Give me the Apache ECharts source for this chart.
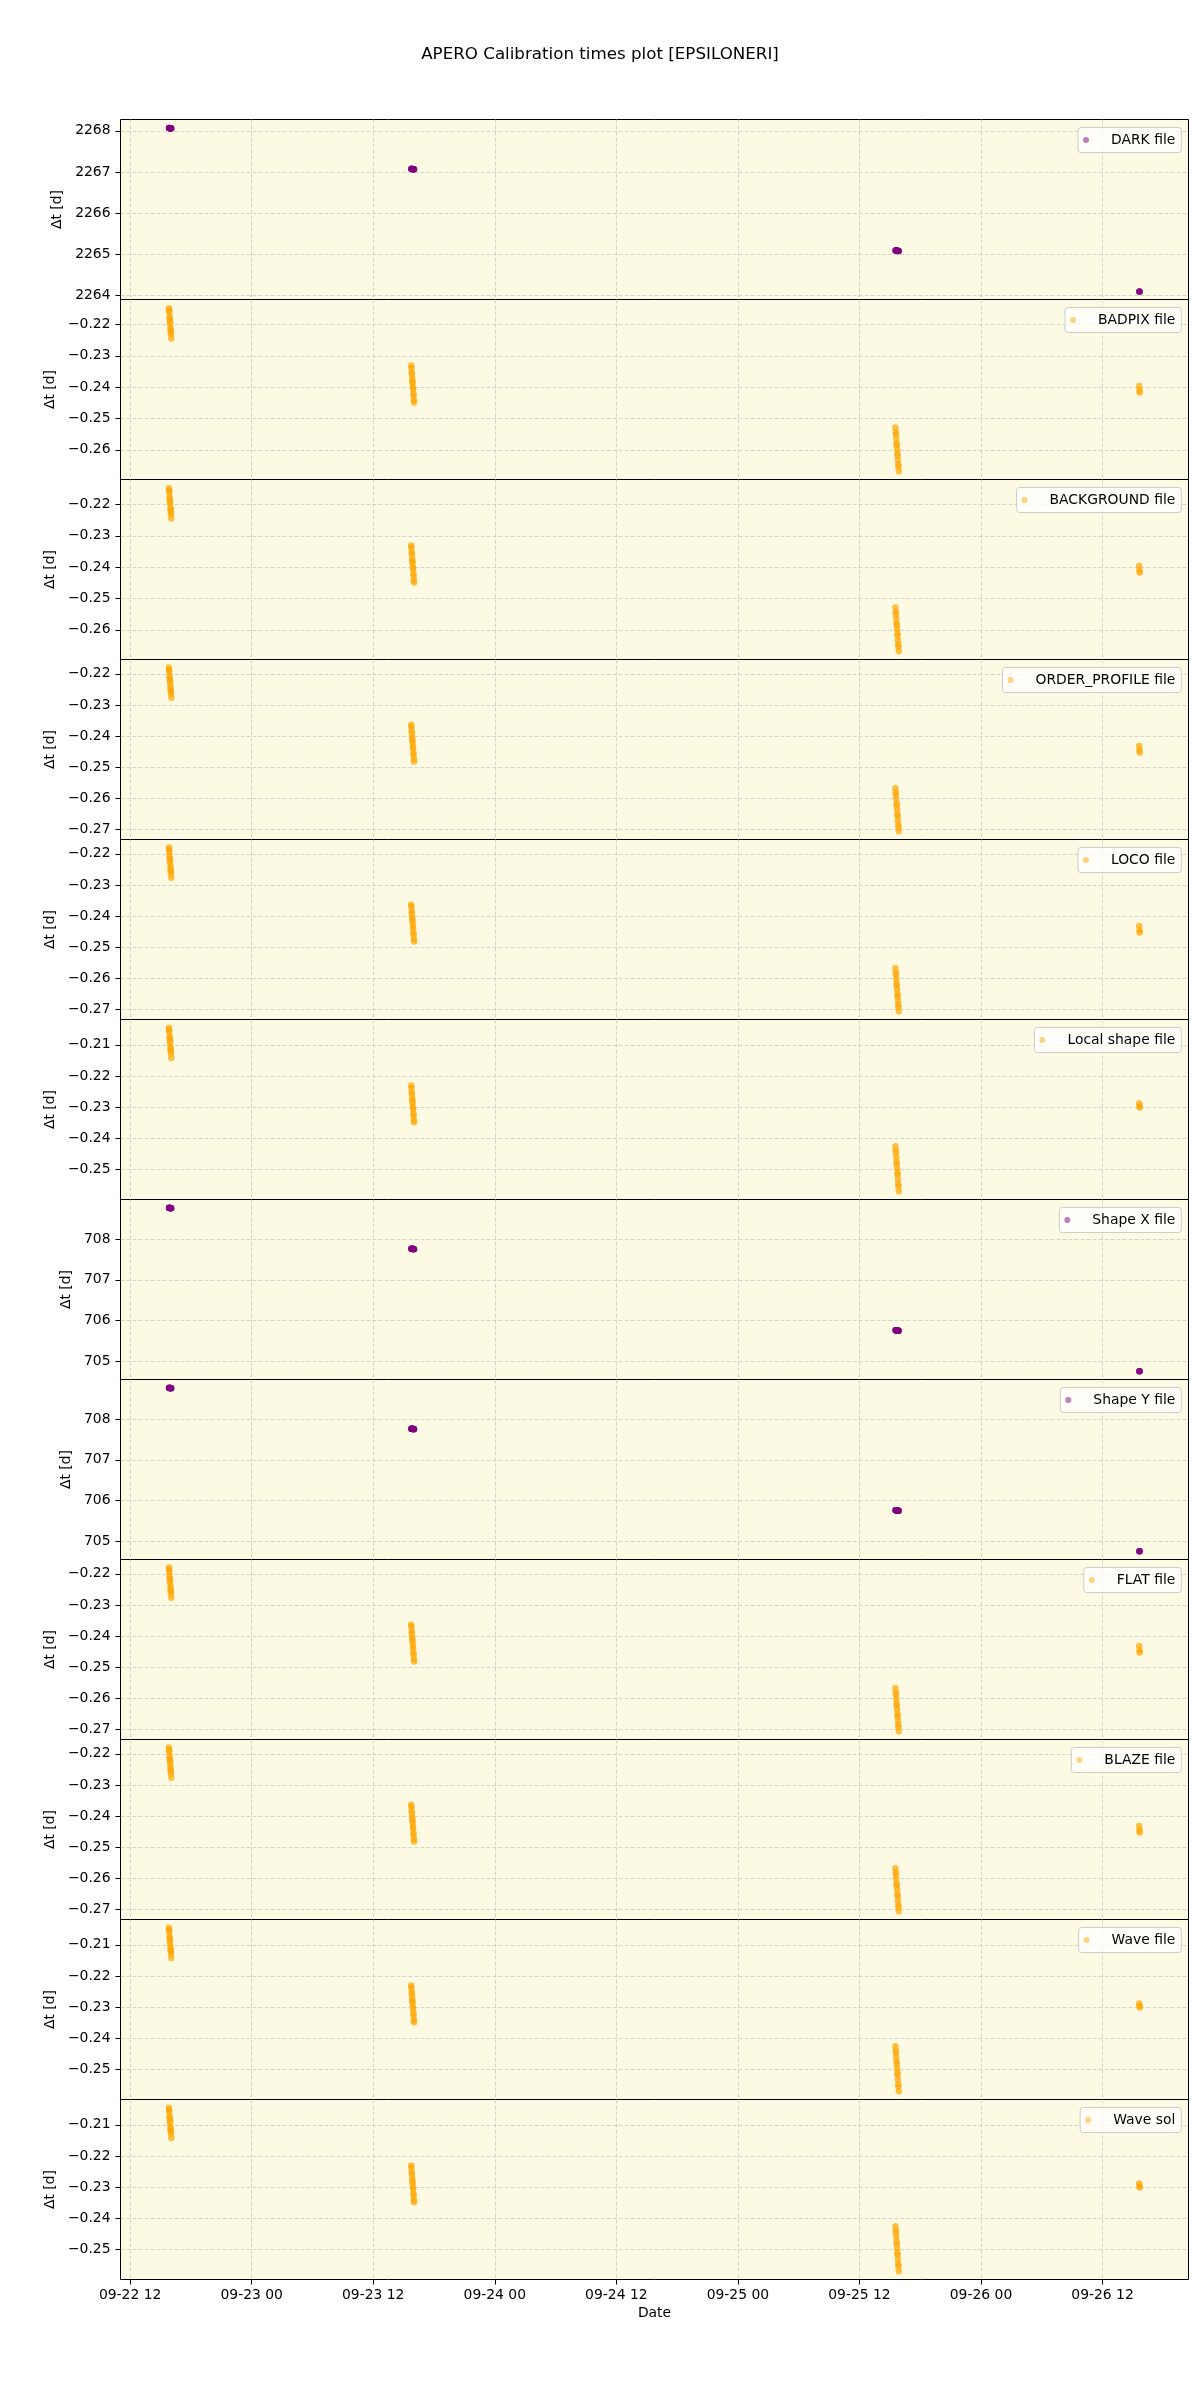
<!DOCTYPE html>
<html>
<head>
<meta charset="utf-8">
<script src="https://cdn.jsdelivr.net/npm/echarts@6/dist/echarts.min.js"></script>
<style>
html,body{margin:0;padding:0;background:#ffffff;}
#chart{width:1200px;height:2400px;}
</style>
</head>
<body>
<div id="chart"></div>
<script>
// ---------------- DATA ----------------
const chartTitle = 'APERO Calibration times plot [EPSILONERI]';
const xAxisName = 'Date';
const yAxisName = 'Δt [d]';

// observation times (UTC), shared by all panels
const obsTimes = [
  '2022-09-22T15:50:00Z','2022-09-22T15:51:00Z','2022-09-22T15:52:00Z','2022-09-22T15:54:00Z',
  '2022-09-22T15:55:00Z','2022-09-22T15:56:00Z','2022-09-22T15:57:00Z','2022-09-22T15:59:00Z',
  '2022-09-22T16:00:00Z','2022-09-22T16:01:00Z','2022-09-22T16:02:00Z','2022-09-22T16:04:00Z',
  '2022-09-23T15:45:00Z','2022-09-23T15:46:00Z','2022-09-23T15:48:00Z','2022-09-23T15:49:00Z',
  '2022-09-23T15:51:00Z','2022-09-23T15:52:00Z','2022-09-23T15:53:00Z','2022-09-23T15:55:00Z',
  '2022-09-23T15:56:00Z','2022-09-23T15:58:00Z','2022-09-23T15:59:00Z','2022-09-23T16:01:00Z',
  '2022-09-23T16:02:00Z',
  '2022-09-25T15:33:00Z','2022-09-25T15:35:00Z','2022-09-25T15:36:00Z','2022-09-25T15:38:00Z',
  '2022-09-25T15:40:00Z','2022-09-25T15:41:00Z','2022-09-25T15:43:00Z','2022-09-25T15:45:00Z',
  '2022-09-25T15:46:00Z','2022-09-25T15:48:00Z','2022-09-25T15:50:00Z','2022-09-25T15:51:00Z',
  '2022-09-25T15:53:00Z',
  '2022-09-26T15:37:00Z','2022-09-26T15:39:00Z','2022-09-26T15:40:00Z'
];

const dtDark = [
  2268.068,2268.067,2268.067,2268.065,2268.065,2268.064,2268.063,2268.062,2268.061,2268.060,2268.060,2268.058,
  2267.075,2267.074,2267.073,2267.072,2267.071,2267.070,2267.069,2267.068,2267.067,2267.066,2267.065,2267.064,2267.063,
  2265.088,2265.087,2265.086,2265.085,2265.083,2265.083,2265.081,2265.080,2265.079,2265.078,2265.076,2265.076,2265.074,
  2264.088,2264.087,2264.086
];
const dtBadpix = [
  -0.2148,-0.2155,-0.2162,-0.2176,-0.2183,-0.2190,-0.2197,-0.2210,-0.2217,-0.2224,-0.2231,-0.2245,
  -0.2331,-0.2338,-0.2352,-0.2359,-0.2373,-0.2380,-0.2387,-0.2400,-0.2407,-0.2421,-0.2428,-0.2442,-0.2449,
  -0.2529,-0.2543,-0.2550,-0.2564,-0.2578,-0.2585,-0.2598,-0.2612,-0.2619,-0.2633,-0.2647,-0.2654,-0.2668,
  -0.2396,-0.2410,-0.2417
];
const dtBackground = [
  -0.2148,-0.2155,-0.2162,-0.2176,-0.2183,-0.2190,-0.2197,-0.2210,-0.2217,-0.2224,-0.2231,-0.2245,
  -0.2331,-0.2338,-0.2352,-0.2359,-0.2373,-0.2380,-0.2387,-0.2400,-0.2407,-0.2421,-0.2428,-0.2442,-0.2449,
  -0.2529,-0.2543,-0.2550,-0.2564,-0.2578,-0.2585,-0.2598,-0.2612,-0.2619,-0.2633,-0.2647,-0.2654,-0.2668,
  -0.2396,-0.2410,-0.2417
];
const dtOrderProfile = [
  -0.2180,-0.2187,-0.2194,-0.2208,-0.2215,-0.2222,-0.2229,-0.2242,-0.2249,-0.2256,-0.2263,-0.2277,
  -0.2364,-0.2371,-0.2385,-0.2392,-0.2406,-0.2413,-0.2420,-0.2433,-0.2440,-0.2454,-0.2461,-0.2475,-0.2482,
  -0.2568,-0.2582,-0.2589,-0.2603,-0.2617,-0.2624,-0.2637,-0.2651,-0.2658,-0.2672,-0.2686,-0.2693,-0.2707,
  -0.2432,-0.2446,-0.2453
];
const dtLoco = [
  -0.2180,-0.2187,-0.2194,-0.2208,-0.2215,-0.2222,-0.2229,-0.2242,-0.2249,-0.2256,-0.2263,-0.2277,
  -0.2364,-0.2371,-0.2385,-0.2392,-0.2406,-0.2413,-0.2420,-0.2433,-0.2440,-0.2454,-0.2461,-0.2475,-0.2482,
  -0.2568,-0.2582,-0.2589,-0.2603,-0.2617,-0.2624,-0.2637,-0.2651,-0.2658,-0.2672,-0.2686,-0.2693,-0.2707,
  -0.2432,-0.2446,-0.2453
];
const dtLocalShape = [
  -0.2045,-0.2052,-0.2059,-0.2073,-0.2080,-0.2087,-0.2094,-0.2107,-0.2114,-0.2121,-0.2128,-0.2142,
  -0.2231,-0.2238,-0.2252,-0.2259,-0.2273,-0.2280,-0.2287,-0.2300,-0.2307,-0.2321,-0.2328,-0.2342,-0.2349,
  -0.2426,-0.2440,-0.2448,-0.2462,-0.2476,-0.2483,-0.2497,-0.2511,-0.2518,-0.2533,-0.2548,-0.2556,-0.2571,
  -0.2289,-0.2297,-0.2302
];
const dtShapeX = [
  708.770,708.769,708.769,708.767,708.767,708.766,708.765,708.764,708.763,708.762,708.762,708.760,
  707.765,707.764,707.763,707.762,707.761,707.760,707.759,707.758,707.757,707.756,707.755,707.754,707.753,
  705.760,705.759,705.758,705.757,705.755,705.755,705.753,705.752,705.751,705.750,705.748,705.748,705.746,
  704.752,704.751,704.750
];
const dtShapeY = [
  708.770,708.769,708.769,708.767,708.767,708.766,708.765,708.764,708.763,708.762,708.762,708.760,
  707.765,707.764,707.763,707.762,707.761,707.760,707.759,707.758,707.757,707.756,707.755,707.754,707.753,
  705.760,705.759,705.758,705.757,705.755,705.755,705.753,705.752,705.751,705.750,705.748,705.748,705.746,
  704.752,704.751,704.750
];
const dtFlat = [
  -0.2180,-0.2187,-0.2194,-0.2208,-0.2215,-0.2222,-0.2229,-0.2242,-0.2249,-0.2256,-0.2263,-0.2277,
  -0.2364,-0.2371,-0.2385,-0.2392,-0.2406,-0.2413,-0.2420,-0.2433,-0.2440,-0.2454,-0.2461,-0.2475,-0.2482,
  -0.2568,-0.2582,-0.2589,-0.2603,-0.2617,-0.2624,-0.2637,-0.2651,-0.2658,-0.2672,-0.2686,-0.2693,-0.2707,
  -0.2432,-0.2446,-0.2453
];
const dtBlaze = [
  -0.2180,-0.2187,-0.2194,-0.2208,-0.2215,-0.2222,-0.2229,-0.2242,-0.2249,-0.2256,-0.2263,-0.2277,
  -0.2364,-0.2371,-0.2385,-0.2392,-0.2406,-0.2413,-0.2420,-0.2433,-0.2440,-0.2454,-0.2461,-0.2475,-0.2482,
  -0.2568,-0.2582,-0.2589,-0.2603,-0.2617,-0.2624,-0.2637,-0.2651,-0.2658,-0.2672,-0.2686,-0.2693,-0.2707,
  -0.2432,-0.2446,-0.2453
];
const dtWaveFile = [
  -0.2045,-0.2052,-0.2059,-0.2073,-0.2080,-0.2087,-0.2094,-0.2107,-0.2114,-0.2121,-0.2128,-0.2142,
  -0.2231,-0.2238,-0.2252,-0.2259,-0.2273,-0.2280,-0.2287,-0.2300,-0.2307,-0.2321,-0.2328,-0.2342,-0.2349,
  -0.2426,-0.2440,-0.2448,-0.2462,-0.2476,-0.2483,-0.2497,-0.2511,-0.2518,-0.2533,-0.2548,-0.2556,-0.2571,
  -0.2289,-0.2297,-0.2302
];
const dtWaveSol = [
  -0.2045,-0.2052,-0.2059,-0.2073,-0.2080,-0.2087,-0.2094,-0.2107,-0.2114,-0.2121,-0.2128,-0.2142,
  -0.2231,-0.2238,-0.2252,-0.2259,-0.2273,-0.2280,-0.2287,-0.2300,-0.2307,-0.2321,-0.2328,-0.2342,-0.2349,
  -0.2426,-0.2440,-0.2448,-0.2462,-0.2476,-0.2483,-0.2497,-0.2511,-0.2518,-0.2533,-0.2548,-0.2556,-0.2571,
  -0.2289,-0.2297,-0.2302
];

// axis ticks
const xTickValues = [
  '2022-09-22T12:00:00Z','2022-09-23T00:00:00Z','2022-09-23T12:00:00Z','2022-09-24T00:00:00Z',
  '2022-09-24T12:00:00Z','2022-09-25T00:00:00Z','2022-09-25T12:00:00Z','2022-09-26T00:00:00Z',
  '2022-09-26T12:00:00Z'
];
const xRange = ['2022-09-22T11:03:00Z','2022-09-26T20:29:00Z'];
const yTicksDark = [2264, 2265, 2266, 2267, 2268];
const yTicksBadpix = [-0.26, -0.25, -0.24, -0.23, -0.22];
const yTicksOrder = [-0.27, -0.26, -0.25, -0.24, -0.23, -0.22];
const yTicksLocal = [-0.25, -0.24, -0.23, -0.22, -0.21];
const yTicksShape = [705, 706, 707, 708];
const yRangeDark = [2263.895, 2268.276];
const yRangeBadpix = [-0.26947, -0.21202];
const yRangeOrder = [-0.27332, -0.21539];
const yRangeLocal = [-0.25976, -0.20185];
const yRangeShape = [704.549, 708.975];

// ---------------- PANELS ----------------
const PURPLE = '#800080', ORANGE = '#ffa500';
const panels = [
  {name:'DARK file',          dt:dtDark,         color:PURPLE, ticks:yTicksDark,   range:yRangeDark,   dec:0, gap:54},
  {name:'BADPIX file',        dt:dtBadpix,       color:ORANGE, ticks:yTicksBadpix, range:yRangeBadpix, dec:2, gap:61},
  {name:'BACKGROUND file',    dt:dtBackground,   color:ORANGE, ticks:yTicksBadpix, range:yRangeBadpix, dec:2, gap:61},
  {name:'ORDER_PROFILE file', dt:dtOrderProfile, color:ORANGE, ticks:yTicksOrder,  range:yRangeOrder,  dec:2, gap:61},
  {name:'LOCO file',          dt:dtLoco,         color:ORANGE, ticks:yTicksOrder,  range:yRangeOrder,  dec:2, gap:61},
  {name:'Local shape file',   dt:dtLocalShape,   color:ORANGE, ticks:yTicksLocal,  range:yRangeLocal,  dec:2, gap:61},
  {name:'Shape X file',       dt:dtShapeX,       color:PURPLE, ticks:yTicksShape,  range:yRangeShape,  dec:0, gap:45},
  {name:'Shape Y file',       dt:dtShapeY,       color:PURPLE, ticks:yTicksShape,  range:yRangeShape,  dec:0, gap:45},
  {name:'FLAT file',          dt:dtFlat,         color:ORANGE, ticks:yTicksOrder,  range:yRangeOrder,  dec:2, gap:61},
  {name:'BLAZE file',         dt:dtBlaze,        color:ORANGE, ticks:yTicksOrder,  range:yRangeOrder,  dec:2, gap:61},
  {name:'Wave file',          dt:dtWaveFile,     color:ORANGE, ticks:yTicksLocal,  range:yRangeLocal,  dec:2, gap:61},
  {name:'Wave sol',           dt:dtWaveSol,      color:ORANGE, ticks:yTicksLocal,  range:yRangeLocal,  dec:2, gap:61}
];

const FONT = 'DejaVu Sans';
const toMs = s => Date.parse(s);
const obsMs = obsTimes.map(toMs);
const xTicksMs = xTickValues.map(toMs);
const pad2 = n => (n < 10 ? '0' : '') + n;
const fmtDate = v => { const d = new Date(v); return pad2(d.getUTCMonth()+1) + '-' + pad2(d.getUTCDate()) + ' ' + pad2(d.getUTCHours()); };
const gridLine = {show:true, lineStyle:{color:'#c9c9c9', width:0.8, type:[4,2]}};

const grids = [], xAxes = [], yAxes = [], series = [], legends = [];
const TOP0 = 119.5, PH = 180, LEFT = 120.5, RIGHT = 11.5;
panels.forEach((p, i) => {
  const top = TOP0 + PH * i;
  const last = i === panels.length - 1;
  grids.push({left:LEFT, right:RIGHT, top:top, height:PH, show:true,
    backgroundColor:'#fcfae2', borderColor:'#000000', borderWidth:1,
    containLabel:false, outerBoundsMode:'none'});
  xAxes.push({type:'value', gridIndex:i, min:toMs(xRange[0]), max:toMs(xRange[1]),
    axisLine:{show:false},
    axisTick:{show:last, customValues:xTicksMs, length:5, lineStyle:{color:'#000', width:1}},
    axisLabel:{show:last, customValues:xTicksMs, formatter:fmtDate, color:'#000', fontSize:13.9, fontFamily:FONT, margin:9},
    splitLine:gridLine,
    name: last ? xAxisName : '', nameLocation:'middle', nameGap:27,
    nameTextStyle:{color:'#000', fontSize:13.9, fontFamily:FONT}});
  yAxes.push({type:'value', gridIndex:i, min:p.range[0], max:p.range[1], scale:true,
    axisLine:{show:false},
    axisTick:{show:true, customValues:p.ticks, length:5, lineStyle:{color:'#000', width:1}},
    axisLabel:{customValues:p.ticks, color:'#000', fontSize:13.9, fontFamily:FONT, margin:10,
      formatter: v => p.dec ? v.toFixed(p.dec).replace('-', '\u2212') : String(Math.round(v))},
    splitLine:gridLine,
    name:yAxisName, nameLocation:'middle', nameGap:p.gap,
    nameTextStyle:{color:'#000', fontSize:13.9, fontFamily:FONT}});
  series.push({type:'scatter', name:p.name, xAxisIndex:i, yAxisIndex:i,
    data: obsMs.map((t, k) => [t, p.dt[k]]),
    symbol:'circle', symbolSize:6.5,
    itemStyle:{color:p.color, opacity:0.7}, silent:true, animation:false});
  legends.push({data:[{name:p.name, icon:'circle', itemStyle:{color:p.color, opacity:0.5}}],
    right:18.7, top:top + 8,
    orient:'vertical', selectedMode:false,
    backgroundColor:'rgba(255,255,255,0.8)', borderColor:'#cccccc', borderWidth:1, borderRadius:3,
    padding:[5,6,5,5], itemWidth:28, itemHeight:6, itemGap:0,
    textStyle:{color:'#000', fontSize:13.9, fontFamily:FONT, lineHeight:15, padding:[0,0,0,6]}});
});

const chart = echarts.init(document.getElementById('chart'), null, {renderer:'canvas'});
chart.setOption({
  animation:false,
  backgroundColor:'#ffffff',
  textStyle:{fontFamily:FONT},
  title:{text:chartTitle, left:'center', top:46, padding:0,
    textStyle:{fontSize:16.7, fontWeight:'normal', color:'#000', fontFamily:FONT}},
  grid:grids, xAxis:xAxes, yAxis:yAxes, series:series, legend:legends
});
</script>
</body>
</html>
